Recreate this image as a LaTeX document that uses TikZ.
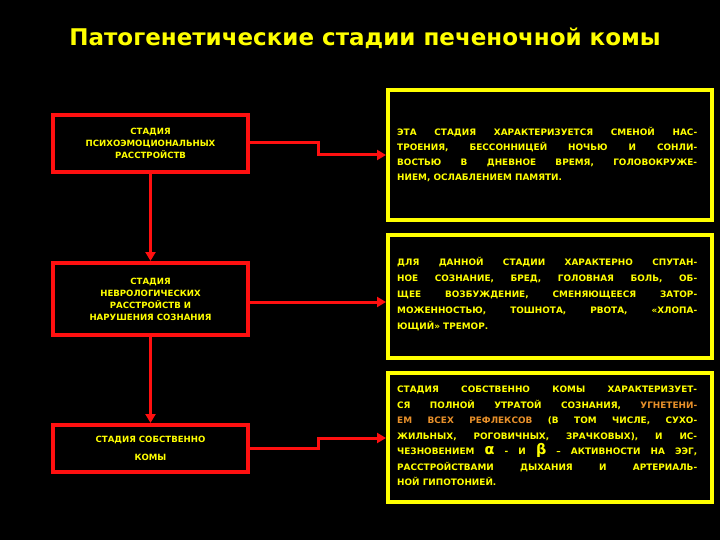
\documentclass[tikz,border=0pt]{standalone}
\usepackage{fontspec}
\setmainfont{DejaVu Sans}
\usetikzlibrary{arrows.meta}
\definecolor{yel}{HTML}{FFFF00}
\definecolor{red1}{HTML}{FF1010}
\definecolor{org}{HTML}{E8902A}
\begin{document}
\begin{tikzpicture}[x=1pt,y=-1pt,
  lbox/.style={draw=red1,line width=4pt,fill=black,text=yel,font=\bfseries\fontsize{8.6}{12}\selectfont,align=center,inner sep=0pt},
  rbox/.style={draw=yel,line width=4pt,fill=black,text=yel,inner sep=0pt},
  rtext/.style={text=yel,font=\bfseries\fontsize{8.9}{15}\selectfont,align=justify,text width=300pt,anchor=west,inner sep=0pt},
  conn/.style={draw=red1,line width=3pt,-{Triangle[length=9pt,width=10pt]}}]
\fill[black] (0,0) rectangle (720,540);
\useasboundingbox (0,0) rectangle (720,540);
\node[text=yel,font=\bfseries\fontsize{23}{26}\selectfont] (title) at (365,38) {Патогенетические стадии печеночной комы};
% left boxes
\node[lbox,minimum width=195pt,minimum height=57pt] (l1) at (150.5,143.5) {СТАДИЯ\\ПСИХОЭМОЦИОНАЛЬНЫХ\\РАССТРОЙСТВ};
\node[lbox,minimum width=195pt,minimum height=72pt] (l2) at (150.5,299) {СТАДИЯ\\НЕВРОЛОГИЧЕСКИХ\\РАССТРОЙСТВ И\\НАРУШЕНИЯ СОЗНАНИЯ};
\node[lbox,minimum width=195pt,minimum height=47pt,font=\bfseries\fontsize{8.6}{18}\selectfont] (l3) at (150.5,448.5) {СТАДИЯ СОБСТВЕННО\\КОМЫ};
% right boxes
\node[rbox,minimum width=324pt,minimum height=130pt] (r1) at (550,155) {};
\node[rbox,minimum width=324pt,minimum height=123pt] (r2) at (550,296.5) {};
\node[rbox,minimum width=324pt,minimum height=129pt] (r3) at (550,437.5) {};
\node[rtext] (t1) at (397,155) {ЭТА СТАДИЯ ХАРАКТЕРИЗУЕТСЯ СМЕНОЙ НАС-\linebreak ТРОЕНИЯ, БЕССОННИЦЕЙ НОЧЬЮ И СОНЛИ-\linebreak ВОСТЬЮ В ДНЕВНОЕ ВРЕМЯ, ГОЛОВОКРУЖЕ-\linebreak НИЕМ, ОСЛАБЛЕНИЕМ ПАМЯТИ.};
\node[rtext,font=\bfseries\fontsize{8.9}{16}\selectfont] (t2) at (397,294) {ДЛЯ ДАННОЙ СТАДИИ ХАРАКТЕРНО СПУТАН-\linebreak НОЕ СОЗНАНИЕ, БРЕД, ГОЛОВНАЯ БОЛЬ, ОБ-\linebreak ЩЕЕ ВОЗБУЖДЕНИЕ, СМЕНЯЮЩЕЕСЯ ЗАТОР-\linebreak МОЖЕННОСТЬЮ, ТОШНОТА, РВОТА, «ХЛОПА-\linebreak ЮЩИЙ» ТРЕМОР.};
\node[rtext,font=\bfseries\fontsize{8.9}{15.5}\selectfont] (t3) at (397,436) {СТАДИЯ СОБСТВЕННО КОМЫ ХАРАКТЕРИЗУЕТ-\linebreak СЯ ПОЛНОЙ УТРАТОЙ СОЗНАНИЯ, \textcolor{org}{УГНЕТЕНИ-}\linebreak \textcolor{org}{ЕМ ВСЕХ РЕФЛЕКСОВ} (В ТОМ ЧИСЛЕ, СУХО-\linebreak ЖИЛЬНЫХ, РОГОВИЧНЫХ, ЗРАЧКОВЫХ), И ИС-\linebreak ЧЕЗНОВЕНИЕМ {\Large α} - И {\Large β} – АКТИВНОСТИ НА ЭЭГ,\linebreak РАССТРОЙСТВАМИ ДЫХАНИЯ И АРТЕРИАЛЬ-\linebreak НОЙ ГИПОТОНИЕЙ.};
% connectors
\draw[conn] (l1.south) -- (l2.north);
\draw[conn] (l2.south) -- (l3.north);
\draw[conn] (l1.east |- 0,143) -- (318,143) -- (318,155) -- (r1.west |- 0,155);
\draw[conn] (l2.east |- 0,302) -- (r2.west |- 0,302);
\draw[conn] (l3.east |- 0,448) -- (318,448) -- (318,438) -- (r3.west |- 0,438);
\end{tikzpicture}
\end{document}
